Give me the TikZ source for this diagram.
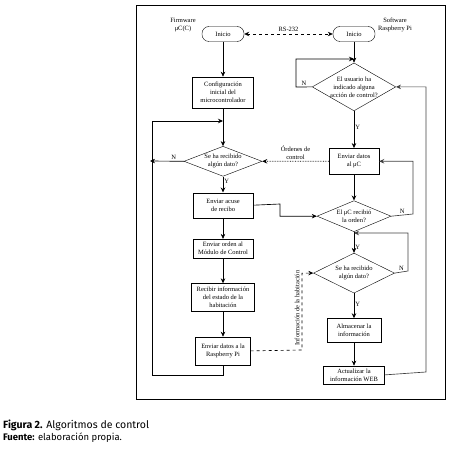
\documentclass[tikz,border=0pt]{standalone}
\usepackage{fontspec}
\setmainfont{Liberation Serif}
\newfontfamily\capfont{Fira Sans}
\usetikzlibrary{arrows.meta,positioning,shapes.geometric}

\begin{document}
\begin{tikzpicture}[x=1pt,y=-1pt,>={Stealth[length=5pt,width=4.5pt]},
  font=\fontsize{6.5}{8}\selectfont,
  box/.style={draw,align=center,inner sep=1pt,minimum width=60pt,minimum height=24pt},
  term/.style={draw,rounded corners=7pt,minimum width=42pt,minimum height=15pt,inner sep=1pt},
  decision/.style={draw,diamond,align=center,inner sep=0pt},
  flow/.style={->,line width=0.65pt},
  lbl/.style={inner sep=1pt}]
\useasboundingbox (0,0) rectangle (450,465);
\draw[line width=0.7pt] (136,5) rectangle (445,399);
% firmware side
\node[term] (iniL) at (223,34) {Inicio};
\node[align=center] (fwlbl) at (183,25) {Firmware\\μC(C)};
\node[box,minimum width=61pt,minimum height=31pt,below=35pt of iniL] (cfg) {Configuración\\inicial del\\microcontrolador};
\node[decision,aspect=2.6,minimum width=78pt,minimum height=30pt,below=38pt of cfg] (dec1L) {Se ha recibido\\algún dato?};
\node[box,minimum height=25pt,below=16pt of dec1L] (ack) {Enviar acuse\\de recibo};
\node[box,minimum height=19pt,below=21pt of ack] (ord) {Enviar orden al\\Módulo de Control};
\node[box,minimum width=63pt,minimum height=28pt,below=25pt of ord] (rec) {Recibir información\\del estado de la\\habitación};
\node[box,minimum width=55pt,minimum height=28pt,below=25pt of rec] (snd) {Enviar datos a la\\Raspberry Pi};
% raspberry side
\node[term] (iniR) at (354,34) {Inicio};
\node[align=center] (swlbl) at (395,25) {Software\\Raspberry Pi};
\node[decision,aspect=1.74,minimum width=82pt,minimum height=47pt,below=21pt of iniR] (dec1R) {El usuario ha\\indicado alguna\\acción de control?};
\node[box,minimum width=50pt,minimum height=26pt,below=37pt of dec1R] (toMC) {Enviar datos\\al μC};
\node[decision,aspect=2.39,minimum width=74pt,minimum height=31pt,below=26pt of toMC] (dec2R) {El μC recibió\\la orden?};
\node[decision,aspect=2,minimum width=81pt,minimum height=40pt,below=21pt of dec2R] (dec3R) {Se ha recibido\\algún dato?};
\node[box,minimum width=54pt,minimum height=24pt,below=25pt of dec3R] (store) {Almacenar la\\información};
\node[box,minimum width=61pt,minimum height=18pt,below=23pt of store] (web) {Actualizar la\\información WEB};
% junctions and free ends
\coordinate (jL) at (cfg.south |- 0,121);
\coordinate (loopL) at (152,121);
\coordinate (outN) at (150,161);
\coordinate (jR1) at (iniR.south |- 0,59);
\coordinate (jR3) at (dec2R.south |- 0,233);
% left column
\draw[flow] (iniL) -- (cfg);
\draw[flow] (cfg) -- (dec1L);
\draw[flow] (snd.south) -- ++(0,10) -| (loopL) -- (jL);
\draw[flow] (dec1L.west) -- node[lbl,above,pos=0.3] {N} (outN);
\draw[flow] (dec1L) -- node[lbl,right,pos=0.3] {Y} (ack);
\draw[flow] (ack) -- (ord);
\draw[flow] (ord) -- (rec);
\draw[flow] (rec) -- (snd);
\draw[flow] (ack.east) -- (280,204) |- (dec2R.west);
\draw[flow,dashed] (snd.east) -- (302,350) |- (dec3R.west);
\node[lbl,rotate=90] (habLbl) at (297,308) {Información de la habitación};
% link
\draw[<->,dashed,line width=0.65pt] (iniL) -- node[lbl,above=1pt] {RS-232} (iniR);
% right column
\draw[flow] (iniR) -- (dec1R);
\draw[flow] (dec1R.west) -- node[lbl,above,pos=0.5] {N} (296,87) |- (jR1);
\draw[flow] (dec1R) -- node[lbl,right,pos=0.45] {Y} (toMC);
\draw[flow,densely dotted] (toMC.west) -- node[lbl,above,align=center] {Órdenes de\\control} (dec1L.east);
\draw[flow] (toMC) -- (dec2R);
\draw[flow,black!75] (dec2R.east) -- node[lbl,above,black] {N} (413,214) |- (toMC.east);
\draw[flow] (dec2R) -- node[lbl,right,pos=0.75] {Y} (dec3R);
\draw[flow,black!75] (dec3R.east) -- node[lbl,above,black] {N} (408,271) |- (jR3);
\draw[flow] (dec3R) -- node[lbl,right,pos=0.45] {Y} (store);
\draw[flow] (store) -- (web);
\draw[flow,black!75] (web.east) -- (426,372) |- (dec1R.east);
% caption
\node[font=\capfont\fontsize{10.5}{12}\selectfont,anchor=west,inner sep=0pt] (cap) at (3,425.5) {\textbf{Figura 2.} Algoritmos de control};
\node[font=\capfont\fontsize{9.5}{11}\selectfont,anchor=west,inner sep=0pt] (src) at (3,438) {\textbf{Fuente:} elaboración propia.};
\end{tikzpicture}
\end{document}
